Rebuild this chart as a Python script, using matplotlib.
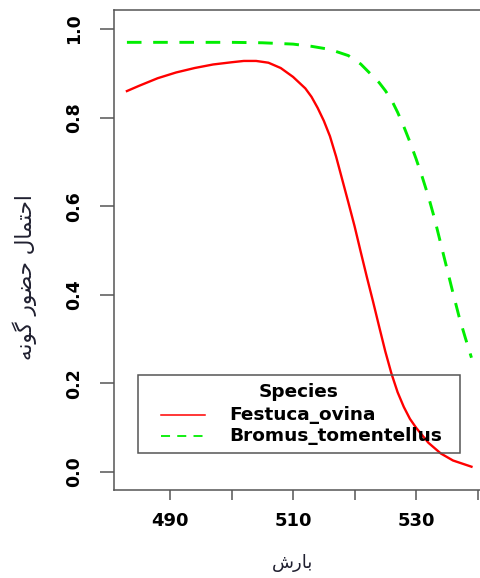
import matplotlib
matplotlib.use("Agg")
import matplotlib.pyplot as plt
from matplotlib.font_manager import FontProperties
from matplotlib.patches import Rectangle

# rainfall (x) vs. presence probability for two species
x_festuca = [483, 485, 488, 491, 494, 497, 500, 502, 504, 506, 508, 510, 512,
             513, 514, 515, 516, 517, 518, 519, 520, 521, 522, 523, 524, 525,
             526, 527, 528, 529, 530, 532, 534, 536, 539]
p_festuca = [0.860, 0.872, 0.889, 0.902, 0.912, 0.920, 0.925, 0.928, 0.928,
             0.924, 0.912, 0.892, 0.866, 0.847, 0.822, 0.793, 0.758, 0.712,
             0.660, 0.608, 0.555, 0.497, 0.440, 0.385, 0.328, 0.272,
             0.222, 0.180, 0.147, 0.120, 0.100, 0.066, 0.042, 0.026, 0.012]

x_bromus = [483, 490, 500, 505, 510, 513, 516, 519, 521, 523, 524, 525, 526,
            527, 528, 529, 530, 531, 532, 533, 534, 535, 536, 537, 538, 539]
p_bromus = [0.970, 0.970, 0.970, 0.969, 0.966, 0.961, 0.954, 0.940, 0.921,
            0.893, 0.879, 0.861, 0.840, 0.812, 0.780, 0.745, 0.707, 0.666,
            0.622, 0.572, 0.516, 0.460, 0.404, 0.350, 0.303, 0.258]

species = ["Festuca_ovina", "Bromus_tomentellus"]
xticks = [490, 500, 510, 520, 530, 540]
xticklabels = ["490", "", "510", "", "530", ""]
yticks = [0.0, 0.2, 0.4, 0.6, 0.8, 1.0]

xlabel = "بارش"
ylabel = "احتمال حضور گونه"

# minimal arabic shaping, matplotlib does not join letters itself
FORMS = {
    'ا': ('\uFE8D', '\uFE8E', None, None),
    'ب': ('\uFE8F', '\uFE90', '\uFE91', '\uFE92'),
    'ت': ('\uFE95', '\uFE96', '\uFE97', '\uFE98'),
    'ح': ('\uFEA1', '\uFEA2', '\uFEA3', '\uFEA4'),
    'ر': ('\uFEAD', '\uFEAE', None, None),
    'ش': ('\uFEB5', '\uFEB6', '\uFEB7', '\uFEB8'),
    'ض': ('\uFEBD', '\uFEBE', '\uFEBF', '\uFEC0'),
    'ل': ('\uFEDD', '\uFEDE', '\uFEDF', '\uFEE0'),
    'م': ('\uFEE1', '\uFEE2', '\uFEE3', '\uFEE4'),
    'ن': ('\uFEE5', '\uFEE6', '\uFEE7', '\uFEE8'),
    'ه': ('\uFEE9', '\uFEEA', '\uFEEB', '\uFEEC'),
    'و': ('\uFEED', '\uFEEE', None, None),
    'گ': ('\uFB92', '\uFB93', '\uFB94', '\uFB95'),
}


def shape(text):
    words = []
    for word in text.split(' '):
        out = ''
        for i, ch in enumerate(word):
            iso, fin, ini, med = FORMS[ch]
            prev_joins = i > 0 and FORMS[word[i - 1]][2] is not None
            next_joins = ini is not None and i < len(word) - 1
            if prev_joins and next_joins:
                out += med
            elif prev_joins:
                out += fin
            elif next_joins:
                out += ini
            else:
                out += iso
        words.append(out)
    return ' '.join(words)[::-1]


fig = plt.figure(figsize=(4.8, 5.78), dpi=100)
ax = fig.add_axes([114 / 480, 88 / 578, 371 / 480, 480 / 578])

red = dict(color='#ff0000', lw=1.7, ls='-')
green = dict(color='#00ee00', lw=2.1, ls=(0, (5, 4)))

ax.plot(x_festuca, p_festuca, **red)
ax.plot(x_bromus, p_bromus, **green)

ax.set_xlim(480.9, 541.2)
ax.set_ylim(-0.0406, 1.043)

ax.set_xticks(xticks)
ax.set_xticklabels(xticklabels)
ax.set_yticks(yticks)
ax.set_yticklabels([f"{v:.1f}" for v in yticks], rotation=90, va='center')

for lab in ax.get_xticklabels():
    lab.set_fontproperties(FontProperties(family='DejaVu Sans', weight='bold', size=13))
for lab in ax.get_yticklabels():
    lab.set_fontproperties(FontProperties(family='DejaVu Sans', weight='bold', size=12.5))

ax.tick_params(axis='y', length=10, width=1.1, color='#555555', pad=12)
ax.tick_params(axis='x', length=7, width=1.1, color='#555555', pad=9)
for s in ax.spines.values():
    s.set_color('#555555')
    s.set_linewidth(1.1)

txt_color = '#202030'
ax.set_xlabel(shape(xlabel), fontsize=13, family='DejaVu Sans', color=txt_color)
ax.xaxis.label.set_va('center')
ax.xaxis.set_label_coords(0.48, -0.152)
ax.set_ylabel(shape(ylabel), fontsize=15.5, family='DejaVu Sans', color=txt_color)
ax.yaxis.label.set_va('center')
ax.yaxis.set_label_coords(-0.24, 0.444)

# legend box, drawn by hand to match the R layout
ax.add_patch(Rectangle((0.0647, 0.0771), 0.868, 0.1625, transform=ax.transAxes,
                       fill=False, edgecolor='#555555', lw=1.1, zorder=3))
leg_font = dict(family='DejaVu Sans', weight='bold', size=13.3, color='black')
ax.text(0.4987, 0.204, "Species", transform=ax.transAxes,
        ha='center', va='center', **leg_font)
rows_y = [0.15625, 0.1125]
for name, style, y in zip(species, [red, green], rows_y):
    st = dict(style)
    st['lw'] = 1.1 if st['ls'] == '-' else 1.3
    ax.plot([0.1267, 0.2453], [y, y], transform=ax.transAxes, **st)
    ax.text(0.31, y, name, transform=ax.transAxes, ha='left', va='center',
            **leg_font)

fig.savefig("out.png", dpi=100)
